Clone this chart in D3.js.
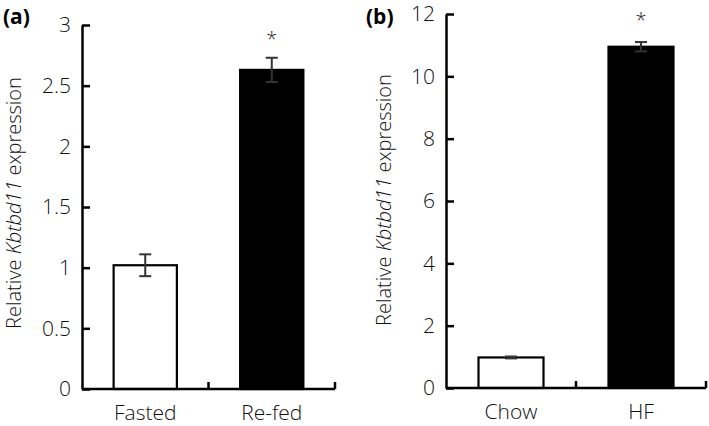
<!DOCTYPE html>
<meta charset="utf-8">
<style>
  body { margin: 0; padding: 0; background: white; }
  svg { background: white; }
  text { font-family: "Open Sans", "Noto Sans", sans-serif; font-weight: 300; }
  text.letter { font-weight: 700; }
</style>
<script src="https://d3js.org/d3.v7.min.js"></script>
<svg id="vis" width="709" height="426"></svg>
<script>

// panel (a)
var catsA = ["Fasted", "Re-fed"];
var valsA = [1.02, 2.63];
var errA = [0.09, 0.10];
var fillA = ["white", "black"];
var ticksA = [0, 0.5, 1, 1.5, 2, 2.5, 3];
var sigA = ["", "*"];

// panel (b)
var catsB = ["Chow", "HF"];
var valsB = [0.98, 10.95];
var errB = [0.03, 0.15];
var fillB = ["white", "black"];
var ticksB = [0, 2, 4, 6, 8, 10, 12];
var sigB = ["", "*"];

var svg = d3.select("svg");

function panel(opt) {
  var g = svg.append("g");

  var x = d3.scaleBand().domain(opt.cats).range([opt.x0, opt.x1]).paddingInner(0).paddingOuter(0);
  var y = d3.scaleLinear().domain([0, d3.max(opt.ticks)]).range([opt.y0, opt.y1]);
  var bw = x.step() * 0.5;

  var rows = opt.cats.map((c, i) => ({cat: c, v: opt.vals[i], e: opt.err[i], fill: opt.fill[i], sig: opt.sig[i]}));

  // bars
  g.selectAll("rect.bar").data(rows).enter().append("rect")
    .attr("class", "bar")
    .attr("x", d => x(d.cat) + (x.step() - bw) / 2)
    .attr("width", bw)
    .attr("y", d => y(d.v))
    .attr("height", d => y(0) - y(d.v))
    .attr("fill", d => d.fill)
    .attr("stroke", "black")
    .attr("stroke-width", 2.2);

  // error bars
  var cx = d => x(d.cat) + x.step() / 2;
  var eb = g.selectAll("g.err").data(rows).enter().append("g").attr("class", "err")
    .attr("stroke", "#333").attr("stroke-width", 2);
  eb.append("line").attr("x1", cx).attr("x2", cx).attr("y1", d => y(d.v + d.e)).attr("y2", d => y(d.v - d.e));
  eb.append("line").attr("x1", d => cx(d) - 6).attr("x2", d => cx(d) + 6).attr("y1", d => y(d.v + d.e)).attr("y2", d => y(d.v + d.e));
  eb.append("line").attr("x1", d => cx(d) - 6).attr("x2", d => cx(d) + 6).attr("y1", d => y(d.v - d.e)).attr("y2", d => y(d.v - d.e));

  // asterisks
  g.selectAll("text.sig").data(rows).enter().append("text")
    .attr("class", "sig")
    .attr("x", cx)
    .attr("y", d => y(d.v + d.e) - opt.sigGap)
    .attr("text-anchor", "middle")
    .attr("font-size", 20)
    .attr("fill", "#222")
    .text(d => d.sig);

  // y axis
  var yAxis = d3.axisLeft(y).tickValues(opt.ticks).tickFormat(d3.format("~g"))
    .tickSizeInner(-8).tickSizeOuter(0);
  var ya = g.append("g").attr("transform", "translate(" + opt.x0 + ",0)").call(yAxis);
  ya.select(".domain").attr("stroke-width", 2.5);
  ya.selectAll(".tick line").attr("stroke-width", 2.5);
  ya.selectAll(".tick text").attr("font-size", 21).attr("fill", "#111").attr("font-family", null)
    .attr("x", -11);

  // x axis baseline with boundary ticks
  g.append("line").attr("x1", opt.x0).attr("x2", opt.x1).attr("y1", y(0)).attr("y2", y(0))
    .attr("stroke", "black").attr("stroke-width", 2.5);
  g.selectAll("line.xt").data(opt.cats).enter().append("line").attr("class", "xt")
    .attr("x1", d => x(d) + x.step()).attr("x2", d => x(d) + x.step())
    .attr("y1", y(0)).attr("y2", y(0) - 7)
    .attr("stroke", "black").attr("stroke-width", 2.5);
  g.selectAll("text.xl").data(opt.cats).enter().append("text").attr("class", "xl")
    .attr("x", d => x(d) + x.step() / 2)
    .attr("y", y(0) + 31)
    .attr("text-anchor", "middle")
    .attr("font-size", 21)
    .attr("fill", "#111")
    .text(d => d);

  // y label
  var lab = g.append("text")
    .attr("transform", "translate(" + opt.labX + "," + opt.labY + ") rotate(-90)")
    .attr("text-anchor", "middle")
    .attr("font-size", 20)
    .attr("fill", "#111");
  lab.append("tspan").text("Relative ");
  lab.append("tspan").attr("font-style", "italic").text("Kbtbd11");
  lab.append("tspan").text(" expression");

  // panel letter
  g.append("text").attr("class", "letter").attr("x", opt.letX).attr("y", opt.letY)
    .attr("font-size", 21).attr("fill", "black")
    .text(opt.letter);
}

panel({cats: catsA, vals: valsA, err: errA, fill: fillA, ticks: ticksA, sig: sigA,
  x0: 82, x1: 335, y0: 389, y1: 25, labX: 21, labY: 203, letter: "(a)", letX: 3, letY: 24, sigGap: 12});

panel({cats: catsB, vals: valsB, err: errB, fill: fillB, ticks: ticksB, sig: sigB,
  x0: 446, x1: 706, y0: 388, y1: 14, labX: 391, labY: 200, letter: "(b)", letX: 366, letY: 24, sigGap: 15});

</script>
